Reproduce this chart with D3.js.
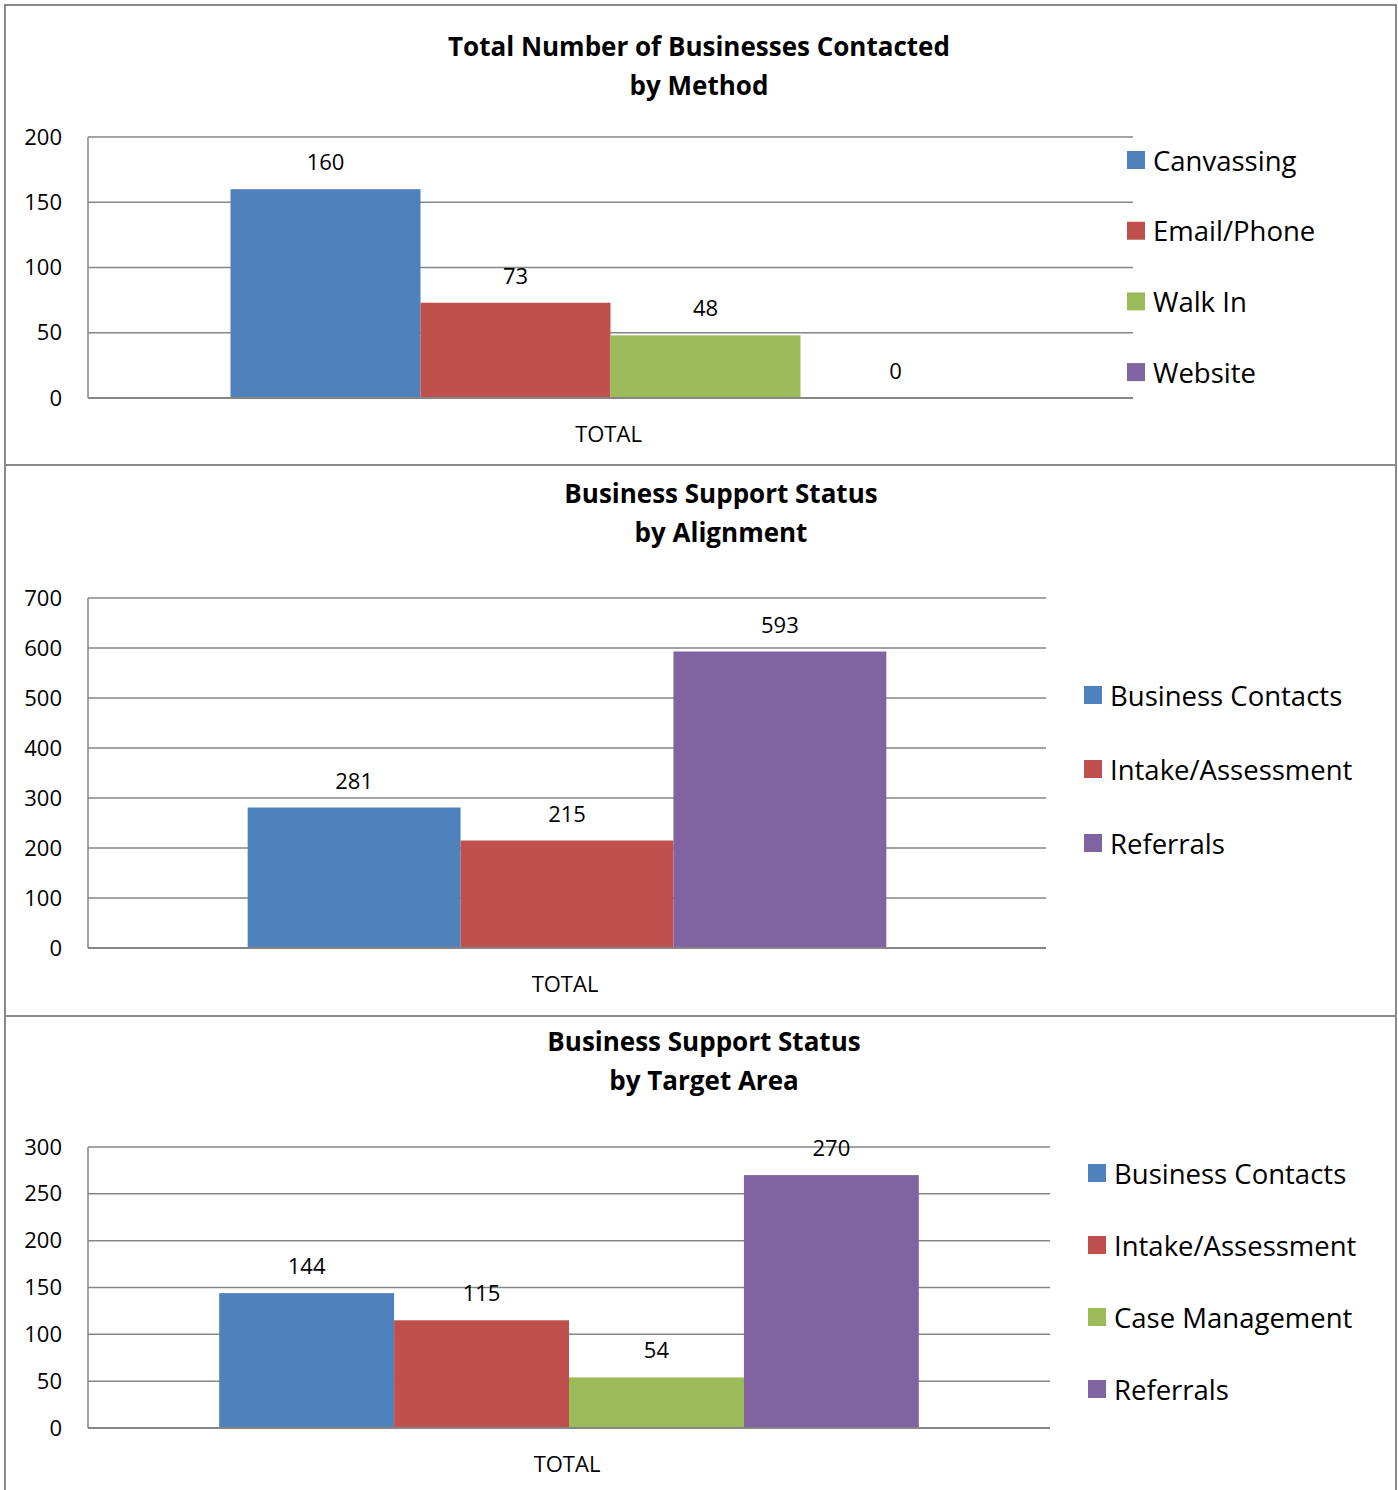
<!DOCTYPE html>
<html>
<head>
<meta charset="utf-8">
<script src="https://cdn.jsdelivr.net/npm/d3@7"></script>
<style>
  html, body { margin: 0; padding: 0; background: #fff; }
  svg { display: block; }
  text { font-family: "Open Sans", sans-serif; fill: #000; }
</style>
</head>
<body>
<svg id="chart" width="1398" height="1490"></svg>
<script>
// ---- Data ----
const category = ["TOTAL"];

const methodTitle = ["Total Number of Businesses Contacted", "by Method"];
const methodSeries = ["Canvassing", "Email/Phone", "Walk In", "Website"];
const methodValues = [160, 73, 48, 0];
const methodTicks = [0, 50, 100, 150, 200];

const alignTitle = ["Business Support Status", "by Alignment"];
const alignSeries = ["Business Contacts", "Intake/Assessment", "Referrals"];
const alignValues = [281, 215, 593];
const alignTicks = [0, 100, 200, 300, 400, 500, 600, 700];

const targetTitle = ["Business Support Status", "by Target Area"];
const targetSeries = ["Business Contacts", "Intake/Assessment", "Case Management", "Referrals"];
const targetValues = [144, 115, 54, 270];
const targetTicks = [0, 50, 100, 150, 200, 250, 300];

const colorMap = {
  "Canvassing": "#4F81BD", "Email/Phone": "#C0504D", "Walk In": "#9BBB59", "Website": "#8064A2",
  "Business Contacts": "#4F81BD", "Intake/Assessment": "#C0504D",
  "Case Management": "#9BBB59", "Referrals": "#8064A2"
};

const svg = d3.select("#chart");
const gridColor = "#868686";
const frameColor = "#8a8a8a";
const FONT = "'Open Sans', sans-serif";

// panel frames
svg.append("rect").attr("x", 5).attr("y", 5).attr("width", 1391).attr("height", 1495)
  .attr("fill", "none").attr("stroke", frameColor).attr("stroke-width", 2);
[465, 1016].forEach(y => svg.append("line").attr("x1", 5).attr("x2", 1396)
  .attr("y1", y).attr("y2", y).attr("stroke", frameColor).attr("stroke-width", 2));

function panel(cfg) {
  const g = svg.append("g");
  // title
  cfg.title.forEach((t, i) => g.append("text")
    .attr("x", cfg.titleX).attr("y", cfg.titleY + i * cfg.titleGap)
    .attr("text-anchor", "middle").attr("dominant-baseline", "central")
    .attr("font-size", 26).attr("font-weight", "bold").text(t));

  const y = d3.scaleLinear().domain([0, d3.max(cfg.ticks)]).range([cfg.bottom, cfg.top]);
  const x0 = d3.scaleBand().domain(category).range([cfg.left, cfg.right]);
  const x1 = d3.scaleBand().domain(cfg.series).range([0, x0.bandwidth()])
    .paddingInner(0).paddingOuter(0.75);

  // gridlines
  g.selectAll(".grid").data(cfg.ticks).join("line")
    .attr("x1", cfg.left).attr("x2", cfg.right)
    .attr("y1", d => y(d)).attr("y2", d => y(d))
    .attr("stroke", gridColor).attr("stroke-width", 1.5);
  // left axis line
  g.append("line").attr("x1", cfg.left).attr("x2", cfg.left)
    .attr("y1", cfg.top).attr("y2", cfg.bottom)
    .attr("stroke", gridColor).attr("stroke-width", 1.5);

  // y tick labels via axis
  const axis = g.append("g").attr("transform", `translate(${cfg.left},0)`)
    .call(d3.axisLeft(y).tickValues(cfg.ticks).tickSize(0).tickPadding(26));
  axis.select(".domain").remove();
  axis.selectAll("text").attr("font-size", 22).attr("font-family", FONT)
    .attr("fill", "#000");

  // bars
  const data = cfg.series.map((s, i) => ({ s, v: cfg.values[i] }));
  g.selectAll(".bar").data(data).join("rect")
    .attr("x", d => x0("TOTAL") + x1(d.s))
    .attr("width", x1.bandwidth())
    .attr("y", d => y(d.v))
    .attr("height", d => cfg.bottom - y(d.v))
    .attr("fill", d => colorMap[d.s]);
  // bottom axis line over bars
  g.append("line").attr("x1", cfg.left).attr("x2", cfg.right)
    .attr("y1", cfg.bottom).attr("y2", cfg.bottom)
    .attr("stroke", gridColor).attr("stroke-width", 2);

  // data labels
  g.selectAll(".lbl").data(data).join("text")
    .attr("x", d => x0("TOTAL") + x1(d.s) + x1.bandwidth() / 2)
    .attr("y", d => y(d.v) - 28)
    .attr("text-anchor", "middle").attr("dominant-baseline", "central")
    .attr("font-size", 22).text(d => d.v);

  // category label
  g.append("text").attr("x", x0("TOTAL") + x0.bandwidth() / 2 - 2).attr("y", cfg.bottom + 35)
    .attr("text-anchor", "middle").attr("dominant-baseline", "central")
    .attr("font-size", 22).text("TOTAL");

  // legend
  cfg.series.forEach((s, i) => {
    const ly = cfg.legendY + i * cfg.legendGap;
    g.append("rect").attr("x", cfg.legendX).attr("y", ly - 9).attr("width", 18).attr("height", 18)
      .attr("fill", colorMap[s]);
    g.append("text").attr("x", cfg.legendX + 26).attr("y", ly)
      .attr("dominant-baseline", "central").attr("font-size", 27.5).text(s);
  });
}

panel({ title: methodTitle, titleX: 699, titleY: 46, titleGap: 39,
  series: methodSeries, values: methodValues, ticks: methodTicks,
  left: 88, right: 1133, top: 137, bottom: 398,
  legendX: 1127, legendY: 160, legendGap: 70.7 });

panel({ title: alignTitle, titleX: 721, titleY: 493, titleGap: 39,
  series: alignSeries, values: alignValues, ticks: alignTicks,
  left: 88, right: 1046, top: 598, bottom: 948,
  legendX: 1084, legendY: 695, legendGap: 74 });

panel({ title: targetTitle, titleX: 704, titleY: 1041, titleGap: 39,
  series: targetSeries, values: targetValues, ticks: targetTicks,
  left: 88, right: 1050, top: 1147, bottom: 1428,
  legendX: 1088, legendY: 1173, legendGap: 72 });
</script>
</body>
</html>
